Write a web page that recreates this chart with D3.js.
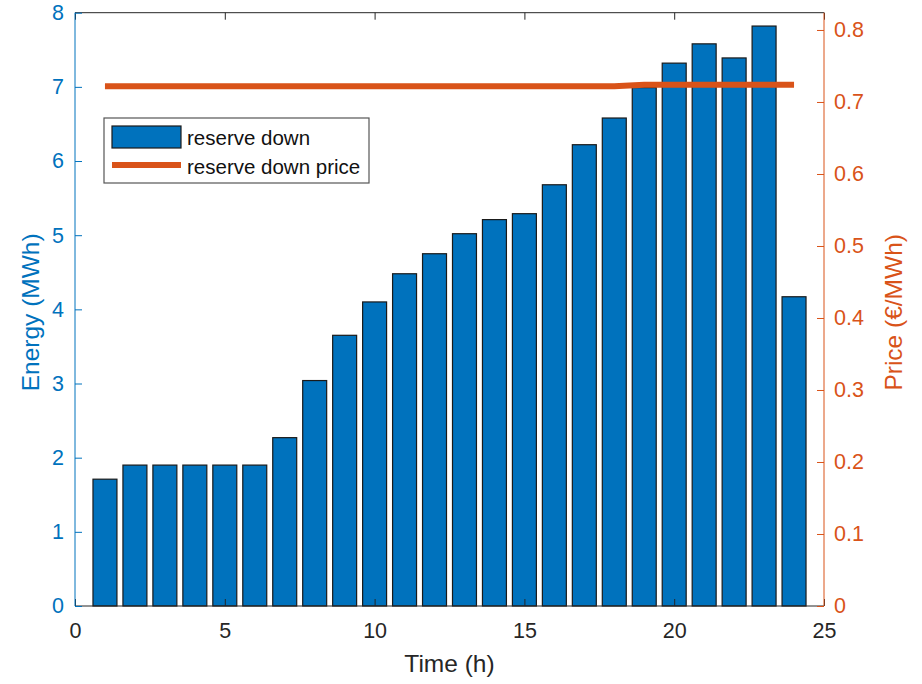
<!DOCTYPE html>
<html>
<head>
<meta charset="utf-8">
<script src="https://cdn.jsdelivr.net/npm/d3@7"></script>
<style>
    body { margin: 0; background: #fff; }
    svg text { font-family: "Liberation Sans", Arial, Helvetica, sans-serif; }
</style>
</head>
<body>
<div id="chart"></div>
<script>
const hours = d3.range(1, 25);
const reserveDown = [1.71, 1.90, 1.90, 1.90, 1.90, 1.90, 2.27, 3.04, 3.65, 4.10, 4.48, 4.75,
    5.02, 5.21, 5.29, 5.68, 6.22, 6.58, 6.99, 7.32, 7.58, 7.39, 7.82, 4.17];
const reserveDownPrice = [0.722, 0.722, 0.722, 0.722, 0.722, 0.722, 0.722, 0.722, 0.722, 0.722, 0.722, 0.722,
    0.722, 0.722, 0.722, 0.722, 0.722, 0.722, 0.724, 0.724, 0.724, 0.724, 0.724, 0.724];
const xTicks = [0, 5, 10, 15, 20, 25];
const energyTicks = [0, 1, 2, 3, 4, 5, 6, 7, 8];
const priceTicks = [0, 0.1, 0.2, 0.3, 0.4, 0.5, 0.6, 0.7, 0.8];
const legendLabels = ["reserve down", "reserve down price"];

const BLUE = "#0072BD";
const ORANGE = "#D95319";
const AXIS_GREY = "#262626";

const W = 922, H = 684;
const plotLeft = 75, plotRight = 824, plotTop = 12.7, plotBottom = 606;

const svg = d3.select("#chart").append("svg")
    .attr("width", W)
    .attr("height", H);

const x = d3.scaleLinear().domain([0, 25]).range([plotLeft, plotRight]);
const yLeft = d3.scaleLinear().domain([0, 8]).range([plotBottom, plotTop]);
const yRight = d3.scaleLinear().domain([0, 0.824]).range([plotBottom, plotTop]);

const barWidth = (x(1) - x(0)) * 0.8;

// bars
svg.append("g")
    .selectAll("rect")
    .data(hours)
    .join("rect")
    .attr("x", d => x(d) - barWidth / 2)
    .attr("y", (d, i) => yLeft(reserveDown[i]))
    .attr("width", barWidth)
    .attr("height", (d, i) => yLeft(0) - yLeft(reserveDown[i]))
    .attr("fill", BLUE)
    .attr("stroke", "#1a1a1a")
    .attr("stroke-width", 1.2);

// price line
const priceLine = d3.line()
    .x((d, i) => x(hours[i]))
    .y(d => yRight(d));

svg.append("path")
    .datum(reserveDownPrice)
    .attr("d", priceLine)
    .attr("fill", "none")
    .attr("stroke", ORANGE)
    .attr("stroke-width", 6);

// x axis bottom + top
const xAxis = svg.append("g")
    .attr("transform", "translate(0," + plotBottom + ")")
    .call(d3.axisBottom(x).tickValues(xTicks).tickSize(-7).tickPadding(17).tickFormat(d3.format("d")));
xAxis.select(".domain").attr("stroke", AXIS_GREY).attr("d", "M" + plotLeft + ",0H" + plotRight);
xAxis.selectAll(".tick line").attr("stroke", AXIS_GREY);
xAxis.selectAll("text").attr("fill", AXIS_GREY).attr("font-size", 21.5);

const xTop = svg.append("g")
    .attr("transform", "translate(0," + plotTop + ")")
    .call(d3.axisTop(x).tickValues(xTicks).tickSize(-7).tickFormat(""));
xTop.select(".domain").attr("stroke", AXIS_GREY).attr("d", "M" + plotLeft + ",0H" + plotRight);
xTop.selectAll(".tick line").attr("stroke", AXIS_GREY);

// left axis
const leftAxis = svg.append("g")
    .attr("transform", "translate(" + plotLeft + ",0)")
    .call(d3.axisLeft(yLeft).tickValues(energyTicks).tickSize(-7).tickPadding(11).tickFormat(d3.format("d")));
leftAxis.select(".domain").attr("stroke", BLUE).attr("d", "M0," + plotBottom + "V" + plotTop);
leftAxis.selectAll(".tick line").attr("stroke", BLUE);
leftAxis.selectAll("text").attr("fill", BLUE).attr("font-size", 21.5);

// right axis
const rightAxis = svg.append("g")
    .attr("transform", "translate(" + plotRight + ",0)")
    .call(d3.axisRight(yRight).tickValues(priceTicks).tickSize(-7).tickPadding(10).tickFormat(d => d === 0 ? "0" : d3.format(".1f")(d)));
rightAxis.select(".domain").attr("stroke", ORANGE).attr("d", "M0," + plotBottom + "V" + plotTop);
rightAxis.selectAll(".tick line").attr("stroke", ORANGE);
rightAxis.selectAll("text").attr("fill", ORANGE).attr("font-size", 21.5);

// axis titles
svg.append("text")
    .attr("x", 449.5)
    .attr("y", 672)
    .attr("text-anchor", "middle")
    .attr("font-size", 24.5)
    .attr("fill", AXIS_GREY)
    .text("Time (h)");

svg.append("text")
    .attr("transform", "translate(39," + ((plotTop + plotBottom) / 2 + 3) + ") rotate(-90)")
    .attr("text-anchor", "middle")
    .attr("font-size", 24.5)
    .attr("fill", BLUE)
    .text("Energy (MWh)");

svg.append("text")
    .attr("transform", "translate(902," + ((plotTop + plotBottom) / 2 + 3) + ") rotate(-90)")
    .attr("text-anchor", "middle")
    .attr("font-size", 24.5)
    .attr("fill", ORANGE)
    .text("Price (€/MWh)");

// legend
const legend = svg.append("g").attr("transform", "translate(104,118)");
legend.append("rect")
    .attr("width", 265)
    .attr("height", 65)
    .attr("fill", "#fff")
    .attr("stroke", "#555")
    .attr("stroke-width", 1.2);
legend.append("rect")
    .attr("x", 8)
    .attr("y", 8)
    .attr("width", 69)
    .attr("height", 22)
    .attr("fill", BLUE)
    .attr("stroke", "#1a1a1a")
    .attr("stroke-width", 1.2);
legend.append("line")
    .attr("x1", 8)
    .attr("x2", 77)
    .attr("y1", 47)
    .attr("y2", 47)
    .attr("stroke", ORANGE)
    .attr("stroke-width", 6);
legend.selectAll("text.label")
    .data(legendLabels)
    .join("text")
    .attr("class", "label")
    .attr("x", 83)
    .attr("y", (d, i) => 20 + i * 29)
    .attr("dy", "0.35em")
    .attr("font-size", 20.5)
    .attr("fill", "#111")
    .text(d => d);
</script>
</body>
</html>
